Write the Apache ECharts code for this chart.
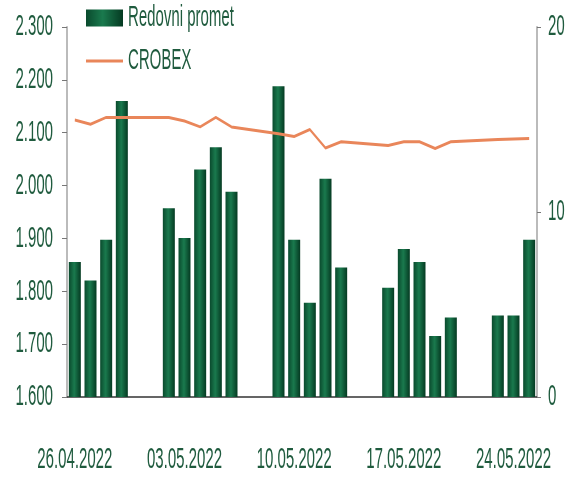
<!DOCTYPE html>
<html>
<head>
<meta charset="utf-8">
<script src="https://cdn.jsdelivr.net/npm/echarts@6/dist/echarts.min.js"></script>
<style>
  html, body { margin: 0; padding: 0; background: #fff; overflow: hidden; }
  /* the reference uses tall narrow lettering, so the chart is drawn twice as wide and squeezed */
  #chart { width: 1148px; height: 477px; transform: scaleX(0.5); transform-origin: 0 0; }
</style>
</head>
<body>
<div id="chart"></div>
<script>
// trading days incl. weekends (empty)
var dates = ['26.04.2022', '27.04.2022', '28.04.2022', '29.04.2022', '30.04.2022', '01.05.2022',
  '02.05.2022', '03.05.2022', '04.05.2022', '05.05.2022', '06.05.2022', '07.05.2022', '08.05.2022',
  '09.05.2022', '10.05.2022', '11.05.2022', '12.05.2022', '13.05.2022', '14.05.2022', '15.05.2022',
  '16.05.2022', '17.05.2022', '18.05.2022', '19.05.2022', '20.05.2022', '21.05.2022', '22.05.2022',
  '23.05.2022', '24.05.2022', '25.05.2022'];

// Redovni promet (desna os, 0-20)
var promet = [7.3, 6.3, 8.5, 16.0, null, null,
  10.2, 8.6, 12.3, 13.5, 11.1, null, null,
  16.8, 8.5, 5.1, 11.8, 7.0, null, null,
  5.9, 8.0, 7.3, 3.3, 4.3, null, null,
  4.4, 4.4, 8.5];

// CROBEX (lijeva os)
var crobex = [2124, 2116, 2129, 2129, null, null,
  2129, 2122, 2111, 2129, 2111, null, null,
  2098, 2093, 2106, 2071, 2083, null, null,
  2076, 2083, 2083, 2070, 2083, null, null,
  2087, 2088, 2089];

var textColor = '#1f5b3e';
var font = 'Liberation Sans';

var chart = echarts.init(document.getElementById('chart'));

var legendText = { color: textColor, fontSize: 30, fontFamily: font, padding: [0, 0, 0, 5] };

var option = {
  animation: false,
  textStyle: { fontFamily: font },
  // two legends so the CROBEX key is a plain line
  legend: [{
    left: 172,
    top: 3,
    padding: 0,
    itemWidth: 74,
    itemHeight: 17,
    icon: 'rect',
    textStyle: legendText,
    data: ['Redovni promet']
  }, {
    left: 172,
    top: 46,
    padding: 0,
    itemWidth: 74,
    itemHeight: 3,
    icon: 'rect',
    textStyle: legendText,
    data: ['CROBEX']
  }],
  grid: { left: 134, right: 74, top: 27, bottom: 80 },
  xAxis: {
    type: 'category',
    data: dates,
    boundaryGap: true,
    axisLine: { lineStyle: { color: '#333', width: 1.5 } },
    axisTick: { interval: 6, length: 7, lineStyle: { color: '#555', width: 2 } },
    axisLabel: {
      interval: 6,
      margin: 48,
      color: textColor,
      fontSize: 30,
      fontFamily: font
    }
  },
  yAxis: [{
    type: 'value',
    min: 1600,
    max: 2300,
    interval: 100,
    splitLine: { show: false },
    axisLine: { show: true, lineStyle: { color: '#777', width: 2 } },
    axisTick: { show: true, length: 10, lineStyle: { color: '#777' } },
    axisLabel: {
      margin: 28,
      color: textColor,
      fontSize: 30,
      fontFamily: font,
      formatter: function (v) {
        return (v / 1000).toFixed(3);
      }
    }
  }, {
    type: 'value',
    min: 0,
    max: 20,
    interval: 10,
    splitLine: { show: false },
    axisLine: { show: true, lineStyle: { color: '#777', width: 2 } },
    axisTick: { show: true, length: 8, lineStyle: { color: '#777' } },
    axisLabel: { margin: 22, color: textColor, fontSize: 30, fontFamily: font }
  }],
  series: [{
    name: 'Redovni promet',
    type: 'bar',
    yAxisIndex: 1,
    barWidth: 24,
    itemStyle: {
      color: new echarts.graphic.LinearGradient(0, 0, 1, 0, [
        { offset: 0, color: '#0a4a2d' },
        { offset: 0.45, color: '#1a7a4e' },
        { offset: 1, color: '#053a22' }
      ])
    },
    data: promet
  }, {
    name: 'CROBEX',
    type: 'line',
    yAxisIndex: 0,
    symbol: 'none',
    connectNulls: true,
    lineStyle: { color: '#e9865a', width: 3 },
    itemStyle: { color: '#e9865a' },
    data: crobex
  }]
};

chart.setOption(option);
</script>
</body>
</html>
